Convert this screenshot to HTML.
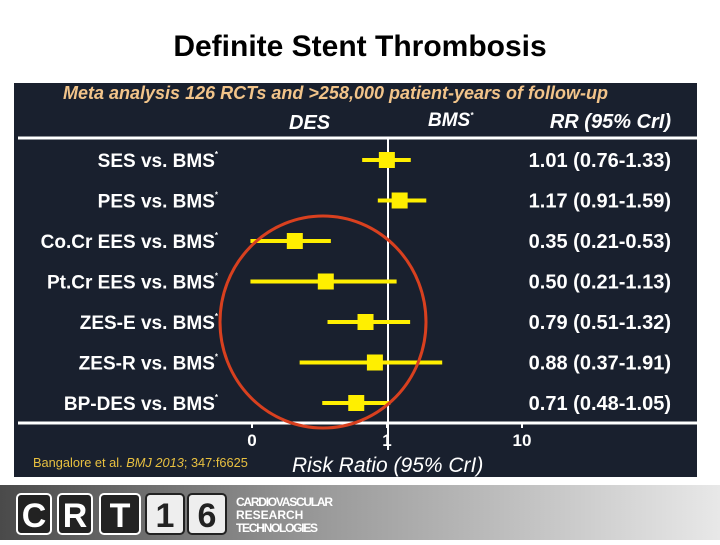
<!DOCTYPE html>
<html><head><meta charset="utf-8"><style>
body{margin:0;width:720px;height:540px;overflow:hidden;background:#fff;font-family:"Liberation Sans",sans-serif}
</style></head><body>
<svg width="720" height="540" viewBox="0 0 720 540">
<defs><linearGradient id="fg" x1="0" x2="1"><stop offset="0" stop-color="#4a4a4a"/><stop offset="0.45" stop-color="#9a9a9a"/><stop offset="1" stop-color="#e8e8e8"/></linearGradient></defs>
<text x="360" y="56" text-anchor="middle" font-size="30" font-weight="bold" fill="#000">Definite Stent Thrombosis</text>
<rect x="14" y="83" width="683" height="394" fill="#19202e"/>
<text x="63" y="99" font-size="18" font-weight="bold" font-style="italic" fill="#f2c48a" textLength="545">Meta analysis 126 RCTs and &gt;258,000 patient-years of follow-up</text>
<text x="289" y="129" font-size="20" font-weight="bold" font-style="italic" fill="#fff">DES</text>
<text x="428" y="126" font-size="19" font-weight="bold" font-style="italic" fill="#fff">BMS<tspan font-size="8" dy="-8">*</tspan></text>
<text x="671" y="128" text-anchor="end" font-size="20" font-weight="bold" font-style="italic" fill="#fff">RR  (95% CrI)</text>
<line x1="18" y1="138" x2="697" y2="138" stroke="#fff" stroke-width="3"/>
<line x1="388" y1="138" x2="388" y2="450" stroke="#fff" stroke-width="2"/>
<line x1="18" y1="423" x2="697" y2="423" stroke="#fff" stroke-width="3"/>
<g id="rows"></g>
<g id="ticks"></g>
<ellipse cx="323" cy="322" rx="103" ry="106" fill="none" stroke="#d8401f" stroke-width="3"/>
<text x="33" y="467" font-size="12.8" fill="#e8c040">Bangalore et al. <tspan font-style="italic">BMJ 2013</tspan>; 347:f6625</text>
<text x="292" y="472" font-size="21" font-style="italic" fill="#fff">Risk Ratio (95% CrI)</text>
<rect x="0" y="485" width="720" height="55" fill="url(#fg)"/>
<g font-weight="bold" fill="#fff">
<rect x="17" y="494" width="34" height="40" rx="4" fill="#222" stroke="#fff" stroke-width="2"/><text x="34" y="527" text-anchor="middle" font-size="34">C</text>
<rect x="58" y="494" width="34" height="40" rx="4" fill="#222" stroke="#fff" stroke-width="2"/><text x="75" y="527" text-anchor="middle" font-size="34">R</text>
<rect x="100" y="494" width="40" height="40" rx="4" fill="#222" stroke="#fff" stroke-width="2"/><text x="120" y="527" text-anchor="middle" font-size="34">T</text>
<rect x="146" y="494" width="38" height="40" rx="4" fill="#eee" stroke="#222" stroke-width="2"/><text x="165" y="527" text-anchor="middle" font-size="34" fill="#222">1</text>
<rect x="188" y="494" width="38" height="40" rx="4" fill="#eee" stroke="#222" stroke-width="2"/><text x="207" y="527" text-anchor="middle" font-size="34" fill="#222">6</text>
<text x="236" y="506" font-size="12" textLength="97">CARDIOVASCULAR</text><text x="236" y="519" font-size="12">RESEARCH</text><text x="236" y="532" font-size="12" textLength="82">TECHNOLOGIES</text>
</g>
</svg>
<script>
const labels=["SES vs. BMS","PES vs. BMS","Co.Cr EES vs. BMS","Pt.Cr EES vs. BMS","ZES-E vs. BMS","ZES-R vs. BMS","BP-DES vs. BMS"];
const rr=[1.01,1.17,0.35,0.50,0.79,0.88,0.71];
const lo=[0.76,0.91,0.21,0.21,0.51,0.37,0.48];
const hi=[1.33,1.59,0.53,1.13,1.32,1.91,1.05];
const tickLabels=["0","1","10"];
const NS="http://www.w3.org/2000/svg";
function xs(v){return 386+Math.log10(v)*200;}
function ys(i){return 160+i*40.5;}
function tx(i){return 252+i*135;}
function mk(t,a,p){const e=document.createElementNS(NS,t);for(const k in a)e.setAttribute(k,a[k]);p.appendChild(e);return e;}
const g=document.getElementById('rows');
labels.forEach((lab,i)=>{
  const y=ys(i);
  const t=mk('text',{x:218,y:y+7,'text-anchor':'end','font-size':19,'font-weight':'bold',fill:'#fff'},g);
  
  
  t.textContent=lab;
  const s=mk('tspan',{'font-size':8,dy:-10},t);s.textContent='*';
  const l=mk('line',{x1:xs(lo[i]),x2:xs(hi[i]),y1:y,y2:y,stroke:'#ffef00','stroke-width':4},g);
  
  
  const r=mk('rect',{x:xs(rr[i])-8,y:y-8,width:16,height:16,fill:'#ffef00'},g);
  
  
  const v=mk('text',{x:671,y:y+7,'text-anchor':'end','font-size':20,'font-weight':'bold',fill:'#fff'},g);
  
  
  v.textContent=rr[i].toFixed(2)+' ('+lo[i].toFixed(2)+'-'+hi[i].toFixed(2)+')';
});
const tg=document.getElementById('ticks');
tickLabels.forEach((s,i)=>{
  const tk=mk('line',{x1:tx(i),x2:tx(i),y1:423,y2:428,stroke:'#fff','stroke-width':2},tg);
  
  
  const t=mk('text',{x:tx(i),y:446,'text-anchor':'middle','font-size':17,'font-weight':'bold',fill:'#fff'},tg);
  
  
  t.textContent=s;
});
</script>
</body></html>
